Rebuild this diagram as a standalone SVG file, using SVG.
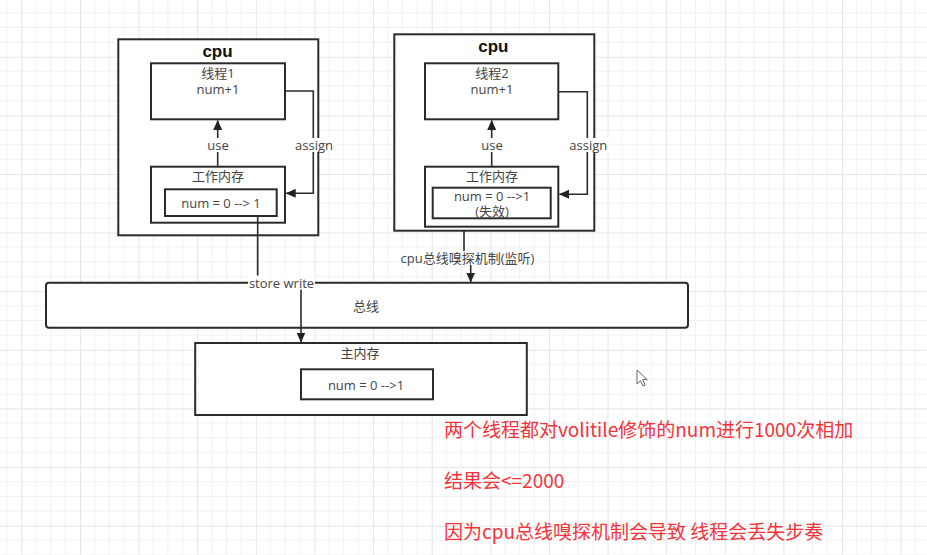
<svg xmlns="http://www.w3.org/2000/svg" width="927" height="555" viewBox="0 0 927 555">
<defs>
<pattern id="grid" patternUnits="userSpaceOnUse" x="21.35" y="-1.9" width="58.62" height="58.62">
<path d="M14.655 0V58.62M29.31 0V58.62M43.965 0V58.62M0 14.655H58.62M0 29.31H58.62M0 43.965H58.62" stroke="#f1f1f1" stroke-width="1" fill="none"/>
<path d="M0.5 0V58.62M0 0.5H58.62" stroke="#e5e5e5" stroke-width="1" fill="none"/>
</pattern>
<marker id="arr" markerUnits="userSpaceOnUse" markerWidth="10" markerHeight="10" viewBox="0 0 10 9" refX="9.5" refY="4.5" orient="auto">
<path d="M0,0 L10,4.5 L0,9 Z" fill="#222"/>
</marker>
<style>
.box{fill:#fff;stroke:#2b2b2b;stroke-width:2}
.t{font-family:"Open Sans","Noto Sans CJK SC",sans-serif;font-size:13px;fill:#444;text-anchor:middle;dominant-baseline:central}
.b{font-family:"Liberation Sans","Noto Sans CJK SC",sans-serif;font-size:17px;font-weight:bold;fill:#111;text-anchor:middle;dominant-baseline:central}
.c{fill:none;stroke:#2b2b2b;stroke-width:1.6}
.lbl{fill:#fff}
.red{font-family:"Noto Sans CJK SC","Liberation Sans",sans-serif;font-size:19px;fill:#f5333a;font-weight:400}
</style>
</defs>
<rect width="927" height="555" fill="#fff"/>
<rect width="927" height="555" fill="url(#grid)"/>

<g id="cpu1">
<rect class="box" x="118.3" y="39.3" width="200" height="196"/>
<text class="b" x="217.5" y="51">cpu</text>
</g>
<g id="thread1">
<rect class="box" x="151" y="63.3" width="134" height="56"/>
<text class="t" x="218" y="72.5">线程1</text>
<text class="t" x="218" y="88.5">num+1</text>
</g>
<g id="workmem1">
<rect class="box" x="151" y="166.7" width="134" height="56"/>
<text class="t" x="218" y="175.5">工作内存</text>
</g>
<g id="num1">
<rect class="box" x="165" y="189.3" width="111.7" height="26.7"/>
<text class="t" x="221" y="203">num = 0 --&gt; 1</text>
</g>

<g id="cpu2">
<rect class="box" x="394.3" y="34.3" width="200" height="196.4"/>
<text class="b" x="493.3" y="46">cpu</text>
</g>
<g id="thread2">
<rect class="box" x="425" y="63.3" width="133.3" height="56"/>
<text class="t" x="492" y="72.5">线程2</text>
<text class="t" x="492" y="88.5">num+1</text>
</g>
<g id="workmem2">
<rect class="box" x="425" y="166.7" width="133.3" height="60"/>
<text class="t" x="492" y="175.7">工作内存</text>
</g>
<g id="num2">
<rect class="box" x="432.7" y="187.7" width="118" height="30.6"/>
<text class="t" x="492" y="195.5">num = 0 --&gt;1</text>
<text class="t" x="492" y="211">(失效)</text>
</g>

<g id="bus">
<rect class="box" x="46" y="282.7" width="642" height="45" rx="3"/>
<text class="t" x="366" y="306">总线</text>
</g>
<g id="mainmem">
<rect class="box" x="195.2" y="343" width="331.6" height="72"/>
<text class="t" x="360" y="353">主内存</text>
</g>
<g id="num3">
<rect class="box" x="301" y="369.3" width="132" height="30"/>
<text class="t" x="366" y="385">num = 0 --&gt;1</text>
</g>

<g id="connectors">
<path class="c" d="M217.7,166.7 V120.5" marker-end="url(#arr)"/>
<path class="c" d="M285,91 H313.3 V193.3 H286.2" marker-end="url(#arr)"/>
<path class="c" d="M491.7,166.7 V120.5" marker-end="url(#arr)"/>
<path class="c" d="M558.3,91.7 H587.3 V194.3 H559.5" marker-end="url(#arr)"/>
<path class="c" d="M257.7,216 V282.5 H301 V342" marker-end="url(#arr)"/>
<path class="c" d="M464,230.7 V258 H470.7 V282" marker-end="url(#arr)"/>
<rect class="lbl" x="205" y="138" width="26" height="14"/>
<text class="t" x="218" y="145">use</text>
<rect class="lbl" x="293" y="138" width="42" height="14"/>
<text class="t" x="314" y="145">assign</text>
<rect class="lbl" x="479" y="138" width="26" height="14"/>
<text class="t" x="492" y="145">use</text>
<rect class="lbl" x="567" y="138" width="42" height="14"/>
<text class="t" x="588.3" y="145">assign</text>
<rect class="lbl" x="248" y="275.5" width="67" height="14"/>
<text class="t" x="281.5" y="282.5">store write</text>
<rect class="lbl" x="400" y="251" width="135" height="14"/>
<text class="t" x="467.5" y="258">cpu总线嗅探机制(监听)</text>
</g>

<g id="notes">
<text class="red" x="444" y="437">两个线程都对volitile修饰的num进行1000次相加</text>
<text class="red" x="444" y="488">结果会&lt;=2000</text>
<text class="red" x="444" y="538.5">因为cpu总线嗅探机制会导致 线程会丢失步奏</text>
</g>

<path d="M637,370 L637,384 L640.5,380.7 L643,386 L645.2,385 L642.7,379.6 L647.2,379.6 Z" fill="#fff" stroke="#666" stroke-width="1"/>
</svg>
